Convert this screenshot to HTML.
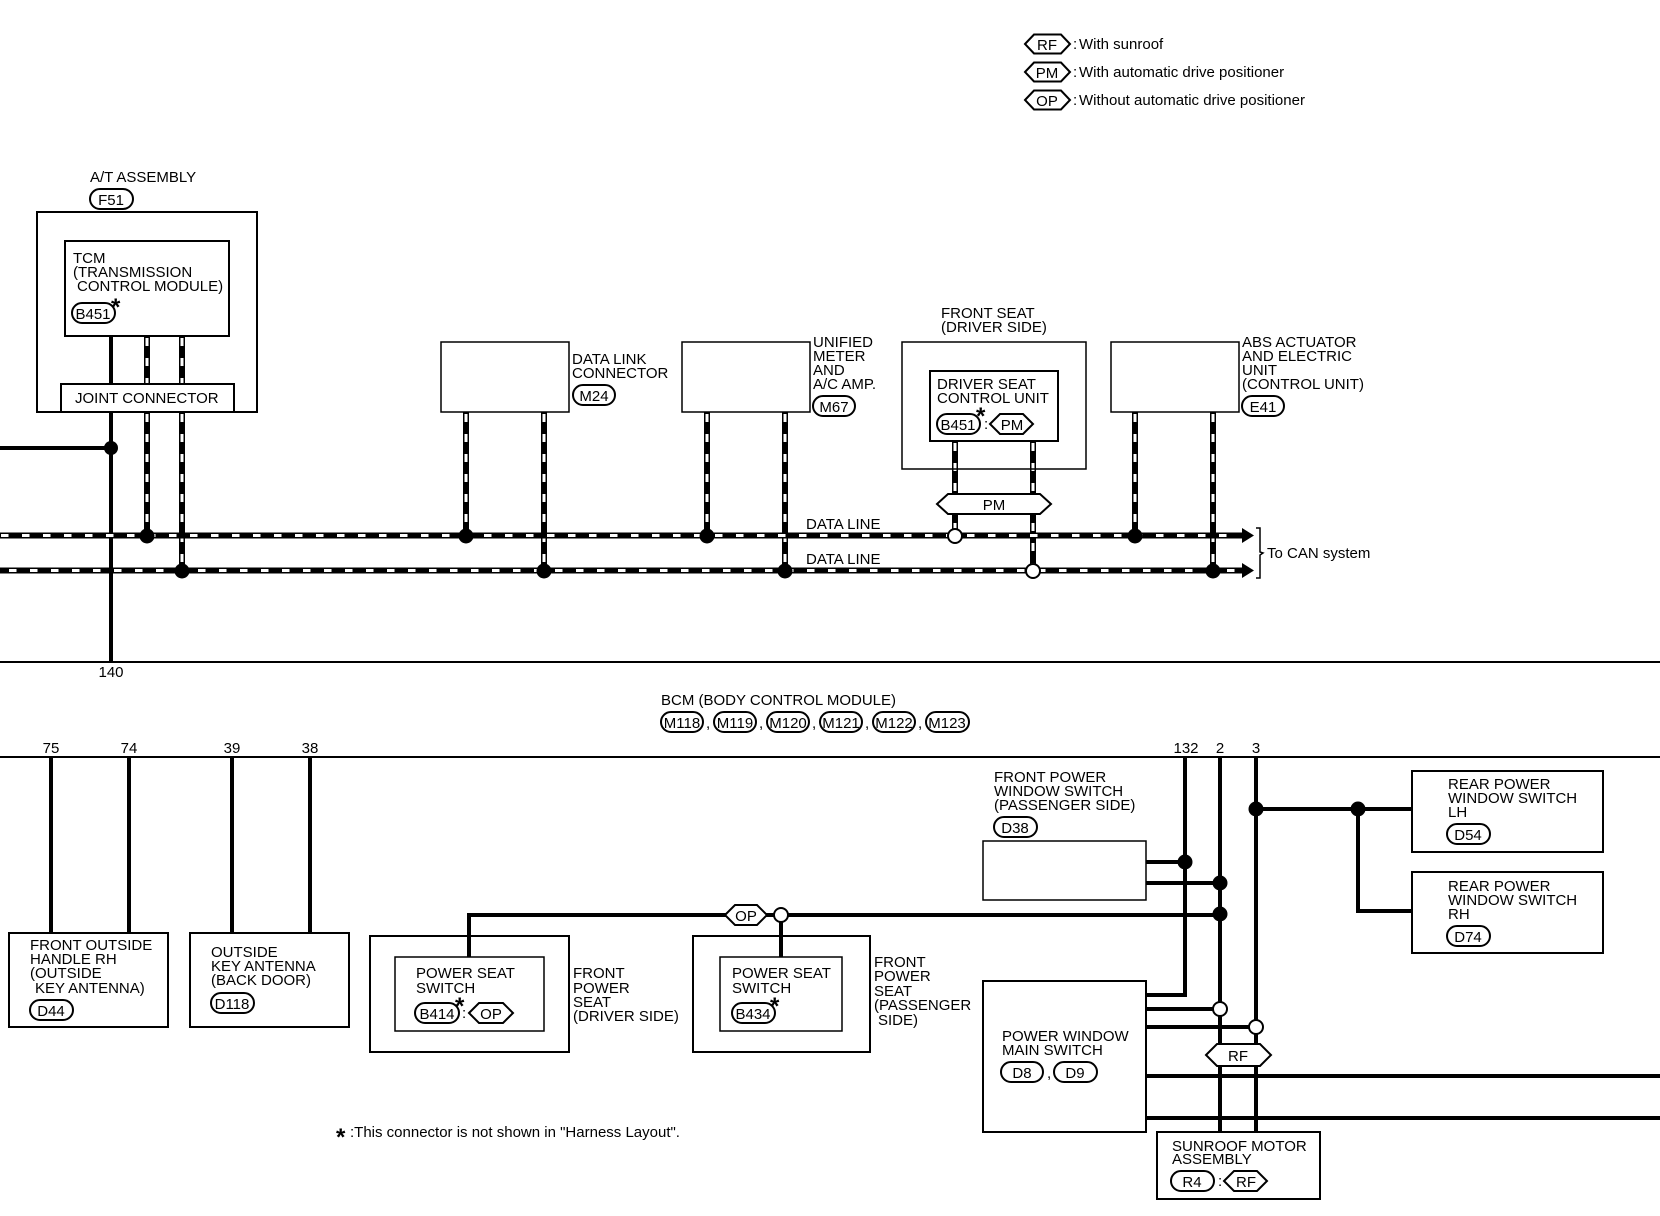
<!DOCTYPE html>
<html><head><meta charset="utf-8"><title>Diagram</title>
<style>
html,body{margin:0;padding:0;background:#fff}
svg{display:block}
text{font-family:"Liberation Sans",sans-serif;font-size:15px;fill:#000}
.a{font-size:24px;font-weight:bold}
.b{fill:none;stroke:#000;stroke-width:2}
.t{fill:none;stroke:#000;stroke-width:1.5}
.p{fill:#fff;stroke:#000;stroke-width:2}
.w{fill:none;stroke:#000;stroke-width:4}
.dk{fill:none;stroke:#000;stroke-width:6}
.dw{fill:none;stroke:#fff;stroke-width:3;stroke-dasharray:8 12}
.hk{fill:none;stroke:#000;stroke-width:6}
.hw{fill:none;stroke:#fff;stroke-width:3;stroke-dasharray:7.5 13.5}
.m{text-anchor:middle}
</style></head><body>
<svg width="1660" height="1216" viewBox="0 0 1660 1216" xmlns="http://www.w3.org/2000/svg">
<rect width="1660" height="1216" fill="#fff"/>

<!-- legend -->
<polygon class="b" points="1025,44 1034,34.500 1061,34.500 1070,44 1061,53.500 1034,53.500"/><text class="m" x="1047" y="50">RF</text>
<text x="1073" y="49">:</text><text x="1079" y="49">With sunroof</text>
<polygon class="b" points="1025,72 1034,62.500 1061,62.500 1070,72 1061,81.500 1034,81.500"/><text class="m" x="1047" y="78">PM</text>
<text x="1073" y="77">:</text><text x="1079" y="77">With automatic drive positioner</text>
<polygon class="b" points="1025,100 1034,90.500 1061,90.500 1070,100 1061,109.500 1034,109.500"/><text class="m" x="1047" y="106">OP</text>
<text x="1073" y="105">:</text><text x="1079" y="105">Without automatic drive positioner</text>

<!-- solid wires -->
<path class="w" d="M111,336V384M111,412V662M0,448H111"/>
<path class="w" d="M51,757V933M129,757V933M232,757V933M310,757V933"/>
<path class="w" d="M469,957V915H1220M781,915V957"/>
<path class="w" d="M1185,757V995H1146M1220,757V1132M1256,757V1132"/>
<path class="w" d="M1146,862H1185M1146,883H1220M1146,1009H1220M1146,1027H1256M1146,1076H1660M1146,1118H1660"/>
<path class="w" d="M1256,809H1412M1358,809V911H1412"/>

<!-- data wires vertical -->
<path class="dk" d="M147,336V384M182,336V384M147,412V536M182,412V571M466,412V536M544,412V571M707,412V536M785,412V571M955,441V536M1033,441V571M1135,412V536M1213,412V571"/>
<path class="dw" d="M147,338V384M182,338V384M147,414V536M182,414V571M466,414V536M544,414V571M707,414V536M785,414V571M955,443V536M1033,443V571M1135,414V536M1213,414V571"/>
<!-- data lines -->
<path class="hk" d="M0,535.500H1244M0,570.500H1244"/>
<path class="hw" d="M1,535.500H1240"/>
<path class="hw" d="M-12,570.500H1240"/>
<polygon points="1242,528 1254,535.500 1242,543"/>
<polygon points="1242,563 1254,570.500 1242,578"/>
<path fill="none" stroke="#000" stroke-width="1.5" d="M1256,528H1260V552L1263,553L1260,555V578H1256"/>

<!-- horizontal rules -->
<path stroke="#000" stroke-width="2" d="M0,662H1660M0,757H1660"/>

<!-- boxes -->
<rect class="b" x="37" y="212" width="220" height="200"/>
<rect class="b" x="65" y="241" width="164" height="95"/>
<rect class="b" x="61" y="384" width="173" height="28"/>
<rect class="t" x="441" y="342" width="128" height="70"/>
<rect class="t" x="682" y="342" width="128" height="70"/>
<rect class="t" x="902" y="342" width="184" height="127"/>
<rect class="b" x="930" y="371" width="128" height="70"/>
<rect class="t" x="1111" y="342" width="128" height="70"/>
<rect class="b" x="9" y="933" width="159" height="94"/>
<rect class="b" x="190" y="933" width="159" height="94"/>
<rect class="b" x="370" y="936" width="199" height="116"/>
<rect class="t" x="395" y="957" width="149" height="74"/>
<rect class="b" x="693" y="936" width="177" height="116"/>
<rect class="t" x="720" y="957" width="122" height="74"/>
<rect class="t" x="983" y="841" width="163" height="59"/>
<rect class="b" x="983" y="981" width="163" height="151"/>
<rect class="b" x="1157" y="1132" width="163" height="67"/>
<rect class="b" x="1412" y="771" width="191" height="81"/>
<rect class="b" x="1412" y="872" width="191" height="81"/>

<!-- bus hexes -->
<polygon class="p" points="937,504 948,494 1040,494 1051,504 1040,514 948,514"/><text class="m" x="994" y="510">PM</text>
<polygon class="p" points="725,915 735,905 757,905 767,915 757,925 735,925"/><text class="m" x="746" y="921">OP</text>
<polygon class="p" points="1206,1055 1217,1044 1260,1044 1271,1055 1260,1066 1217,1066"/><text class="m" x="1238" y="1061">RF</text>

<!-- nodes filled -->
<g fill="#000">
<circle cx="111" cy="448" r="7"/>
<circle cx="147" cy="536" r="7.500"/><circle cx="466" cy="536" r="7.500"/><circle cx="707" cy="536" r="7.500"/><circle cx="1135" cy="536" r="7.500"/>
<circle cx="182" cy="571" r="7.500"/><circle cx="544" cy="571" r="7.500"/><circle cx="785" cy="571" r="7.500"/><circle cx="1213" cy="571" r="7.500"/>
<circle cx="1185" cy="862" r="7.500"/><circle cx="1220" cy="883" r="7.500"/><circle cx="1220" cy="914" r="7.500"/>
<circle cx="1256" cy="809" r="7.500"/><circle cx="1358" cy="809" r="7.500"/>
</g>
<!-- nodes open -->
<g fill="#fff" stroke="#000" stroke-width="2">
<circle cx="955" cy="536" r="7"/><circle cx="1033" cy="571" r="7"/><circle cx="781" cy="915" r="7"/><circle cx="1220" cy="1009" r="7"/><circle cx="1256" cy="1027" r="7"/>
</g>

<!-- A/T -->
<text x="90" y="182">A/T ASSEMBLY</text>
<rect class="b" x="90" y="189" width="43" height="20" rx="10"/><text class="m" x="111" y="205">F51</text>
<text x="73" y="263">TCM</text><text x="73" y="277">(TRANSMISSION</text><text x="77" y="291">CONTROL MODULE)</text>
<rect class="b" x="72" y="303" width="43" height="20" rx="10"/><text class="m" x="93" y="319">B451</text>
<text class="a" x="111" y="315">*</text>
<text x="75" y="403">JOINT CONNECTOR</text>

<!-- top labels -->
<text x="572" y="364">DATA LINK</text><text x="572" y="378">CONNECTOR</text>
<rect class="b" x="573" y="385" width="42" height="20" rx="10"/><text class="m" x="594" y="401">M24</text>
<text x="813" y="347">UNIFIED</text><text x="813" y="361">METER</text><text x="813" y="375">AND</text><text x="813" y="389">A/C AMP.</text>
<rect class="b" x="813" y="396" width="42" height="20" rx="10"/><text class="m" x="834" y="412">M67</text>
<text x="941" y="318">FRONT SEAT</text><text x="941" y="332">(DRIVER SIDE)</text>
<text x="937" y="389">DRIVER SEAT</text><text x="937" y="403">CONTROL UNIT</text>
<rect class="b" x="937" y="414" width="43" height="20" rx="10"/><text class="m" x="958" y="430">B451</text>
<text class="a" x="976" y="424">*</text>
<text x="984" y="429">:</text>
<polygon class="b" points="990,424 1000,414 1023,414 1033,424 1023,434 1000,434"/><text class="m" x="1012" y="430">PM</text>
<text x="1242" y="347">ABS ACTUATOR</text><text x="1242" y="361">AND ELECTRIC</text><text x="1242" y="375">UNIT</text><text x="1242" y="389">(CONTROL UNIT)</text>
<rect class="b" x="1242" y="396" width="42" height="20" rx="10"/><text class="m" x="1263" y="412">E41</text>
<text x="806" y="529">DATA LINE</text><text x="806" y="564">DATA LINE</text>
<text x="1267" y="558">To CAN system</text>
<text class="m" x="111" y="677">140</text>

<!-- BCM -->
<text x="661" y="705">BCM (BODY CONTROL MODULE)</text>
<rect class="b" x="661" y="712" width="42" height="20" rx="10"/><text class="m" x="682" y="728">M118</text><text x="706" y="728">,</text>
<rect class="b" x="714" y="712" width="42" height="20" rx="10"/><text class="m" x="735" y="728">M119</text><text x="759" y="728">,</text>
<rect class="b" x="767" y="712" width="42" height="20" rx="10"/><text class="m" x="788" y="728">M120</text><text x="812" y="728">,</text>
<rect class="b" x="820" y="712" width="42" height="20" rx="10"/><text class="m" x="841" y="728">M121</text><text x="865" y="728">,</text>
<rect class="b" x="873" y="712" width="42" height="20" rx="10"/><text class="m" x="894" y="728">M122</text><text x="918" y="728">,</text>
<rect class="b" x="926" y="712" width="43" height="20" rx="10"/><text class="m" x="947" y="728">M123</text>

<!-- pin numbers -->
<text class="m" x="51" y="753">75</text><text class="m" x="129" y="753">74</text><text class="m" x="232" y="753">39</text><text class="m" x="310" y="753">38</text>
<text class="m" x="1186" y="753">132</text><text class="m" x="1220" y="753">2</text><text class="m" x="1256" y="753">3</text>

<!-- bottom left -->
<text x="30" y="950">FRONT OUTSIDE</text><text x="30" y="964">HANDLE RH</text><text x="30" y="978">(OUTSIDE</text><text x="35" y="993">KEY ANTENNA)</text>
<rect class="b" x="30" y="1000" width="43" height="20" rx="10"/><text class="m" x="51" y="1016">D44</text>
<text x="211" y="957">OUTSIDE</text><text x="211" y="971">KEY ANTENNA</text><text x="211" y="985">(BACK DOOR)</text>
<rect class="b" x="211" y="993" width="43" height="20" rx="10"/><text class="m" x="232" y="1009">D118</text>

<text x="416" y="978">POWER SEAT</text><text x="416" y="993">SWITCH</text>
<rect class="b" x="415" y="1003" width="44" height="20" rx="10"/><text class="m" x="437" y="1019">B414</text>
<text class="a" x="455" y="1014">*</text><text x="462" y="1018">:</text>
<polygon class="b" points="469,1013 479,1003 503,1003 513,1013 503,1023 479,1023"/><text class="m" x="491" y="1019">OP</text>
<text x="573" y="978">FRONT</text><text x="573" y="993">POWER</text><text x="573" y="1007">SEAT</text><text x="573" y="1021">(DRIVER SIDE)</text>

<text x="732" y="978">POWER SEAT</text><text x="732" y="993">SWITCH</text>
<rect class="b" x="732" y="1003" width="43" height="20" rx="10"/><text class="m" x="753" y="1019">B434</text>
<text class="a" x="770" y="1014">*</text>
<text x="874" y="967">FRONT</text><text x="874" y="981">POWER</text><text x="874" y="996">SEAT</text><text x="874" y="1010">(PASSENGER</text><text x="878" y="1025">SIDE)</text>

<text class="a" x="336" y="1145">*</text>
<text x="350" y="1137">:This connector is not shown in "Harness Layout".</text>

<!-- bottom right -->
<text x="994" y="782">FRONT POWER</text><text x="994" y="796">WINDOW SWITCH</text><text x="994" y="810">(PASSENGER SIDE)</text>
<rect class="b" x="994" y="817" width="43" height="20" rx="10"/><text class="m" x="1015" y="833">D38</text>
<text x="1002" y="1041">POWER WINDOW</text><text x="1002" y="1055">MAIN SWITCH</text>
<rect class="b" x="1001" y="1062" width="42" height="20" rx="10"/><text class="m" x="1022" y="1078">D8</text><text x="1047" y="1078">,</text>
<rect class="b" x="1054" y="1062" width="43" height="20" rx="10"/><text class="m" x="1075" y="1078">D9</text>
<text x="1172" y="1151">SUNROOF MOTOR</text><text x="1172" y="1164">ASSEMBLY</text>
<rect class="b" x="1171" y="1171" width="43" height="20" rx="10"/><text class="m" x="1192" y="1187">R4</text><text x="1218" y="1186">:</text>
<polygon class="b" points="1224,1181 1234,1171 1257,1171 1267,1181 1257,1191 1234,1191"/><text class="m" x="1246" y="1187">RF</text>
<text x="1448" y="789">REAR POWER</text><text x="1448" y="803">WINDOW SWITCH</text><text x="1448" y="817">LH</text>
<rect class="b" x="1447" y="824" width="43" height="20" rx="10"/><text class="m" x="1468" y="840">D54</text>
<text x="1448" y="891">REAR POWER</text><text x="1448" y="905">WINDOW SWITCH</text><text x="1448" y="919">RH</text>
<rect class="b" x="1447" y="926" width="43" height="20" rx="10"/><text class="m" x="1468" y="942">D74</text>
</svg>
</body></html>
